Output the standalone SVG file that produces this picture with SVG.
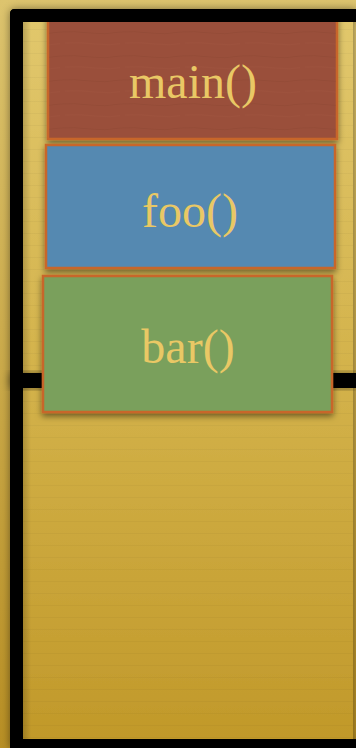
<svg xmlns="http://www.w3.org/2000/svg" width="356" height="748" viewBox="0 0 356 748">
  <defs>
    <linearGradient id="bgGrad" x1="0" y1="0" x2="0" y2="1">
      <stop offset="0" stop-color="#ddc46e"/>
      <stop offset="1" stop-color="#b88f24"/>
    </linearGradient>
    <linearGradient id="panelGrad" x1="0" y1="0" x2="0" y2="1">
      <stop offset="0" stop-color="#e1c76c"/>
      <stop offset="0.5" stop-color="#d3b24a"/>
      <stop offset="1" stop-color="#c1992a"/>
    </linearGradient>
    <linearGradient id="innerShade" x1="0" y1="0" x2="1" y2="0">
      <stop offset="0" stop-color="#000" stop-opacity="0.18"/>
      <stop offset="1" stop-color="#000" stop-opacity="0"/>
    </linearGradient>
    <filter id="frameShadow" x="-20%" y="-20%" width="140%" height="140%">
      <feDropShadow dx="0" dy="0" stdDeviation="4" flood-color="#000" flood-opacity="0.45"/>
    </filter>
    <filter id="boxShadow" x="-10%" y="-10%" width="120%" height="130%">
      <feDropShadow dx="0" dy="3" stdDeviation="3" flood-color="#000" flood-opacity="0.5"/>
    </filter>
    <pattern id="stripes" width="356" height="12" patternUnits="userSpaceOnUse">
      <rect x="0" y="5" width="356" height="1" fill="#000" opacity="0.03"/>
    </pattern>
    <pattern id="grain" width="60" height="24" patternUnits="userSpaceOnUse">
      <path d="M0 8 Q15 7 30 9 T60 8" stroke="#7d3a28" stroke-width="0.8" fill="none" opacity="0.25"/>
      <path d="M5 19 Q20 18 35 20 T65 19" stroke="#b06a50" stroke-width="0.6" fill="none" opacity="0.2"/>
    </pattern>
    <style>
      .frame { fill: #000; }
      .box { stroke: #c8662a; stroke-width: 2.5; filter: url(#boxShadow); }
      .label { font-family: "Liberation Serif", "DejaVu Serif", serif; font-size: 48px; fill: #e9c865; text-anchor: middle; }
    </style>
  </defs>

  <!-- background -->
  <rect x="0" y="0" width="356" height="748" fill="url(#bgGrad)"/>

  <!-- frame -->
  <g id="frame">
    <path class="frame" filter="url(#frameShadow)" d="M15 9 H356 V22 H23 V739 H356 V748 H10 V14 Q10 9 15 9 Z"/>
    <rect x="23" y="22" width="330" height="717" fill="url(#panelGrad)" filter="url(#frameShadow)"/>
    <rect x="23" y="22" width="330" height="717" fill="url(#stripes)"/>
    <rect x="23" y="22" width="8" height="717" fill="url(#innerShade)"/>
    <rect class="frame" x="10" y="373" width="346" height="15" filter="url(#frameShadow)"/>
    <rect class="frame" x="10" y="22" width="13" height="726"/>
    <rect class="frame" x="10" y="739" width="346" height="9"/>
  </g>

  <!-- nodes -->
  <g id="main">
    <rect class="box" x="48" y="14" width="289" height="125" fill="#9a4f3a"/>
    <rect x="49" y="15" width="287" height="123" fill="url(#grain)"/>
    <text class="label" x="193" y="98">main()</text>
  </g>
  <g id="foo">
    <rect class="box" x="46" y="145" width="289" height="123" fill="#5589b1"/>
    <text class="label" x="190" y="227">foo()</text>
  </g>
  <g id="bar">
    <rect class="box" x="43" y="276" width="289" height="136" fill="#7aa05b"/>
    <text class="label" x="188" y="363">bar()</text>
  </g>

  <!-- top frame edge drawn over main -->
  <path class="frame" d="M15 9 H356 V22 H10 V14 Q10 9 15 9 Z"/>

  <g id="connectors"/>
</svg>
